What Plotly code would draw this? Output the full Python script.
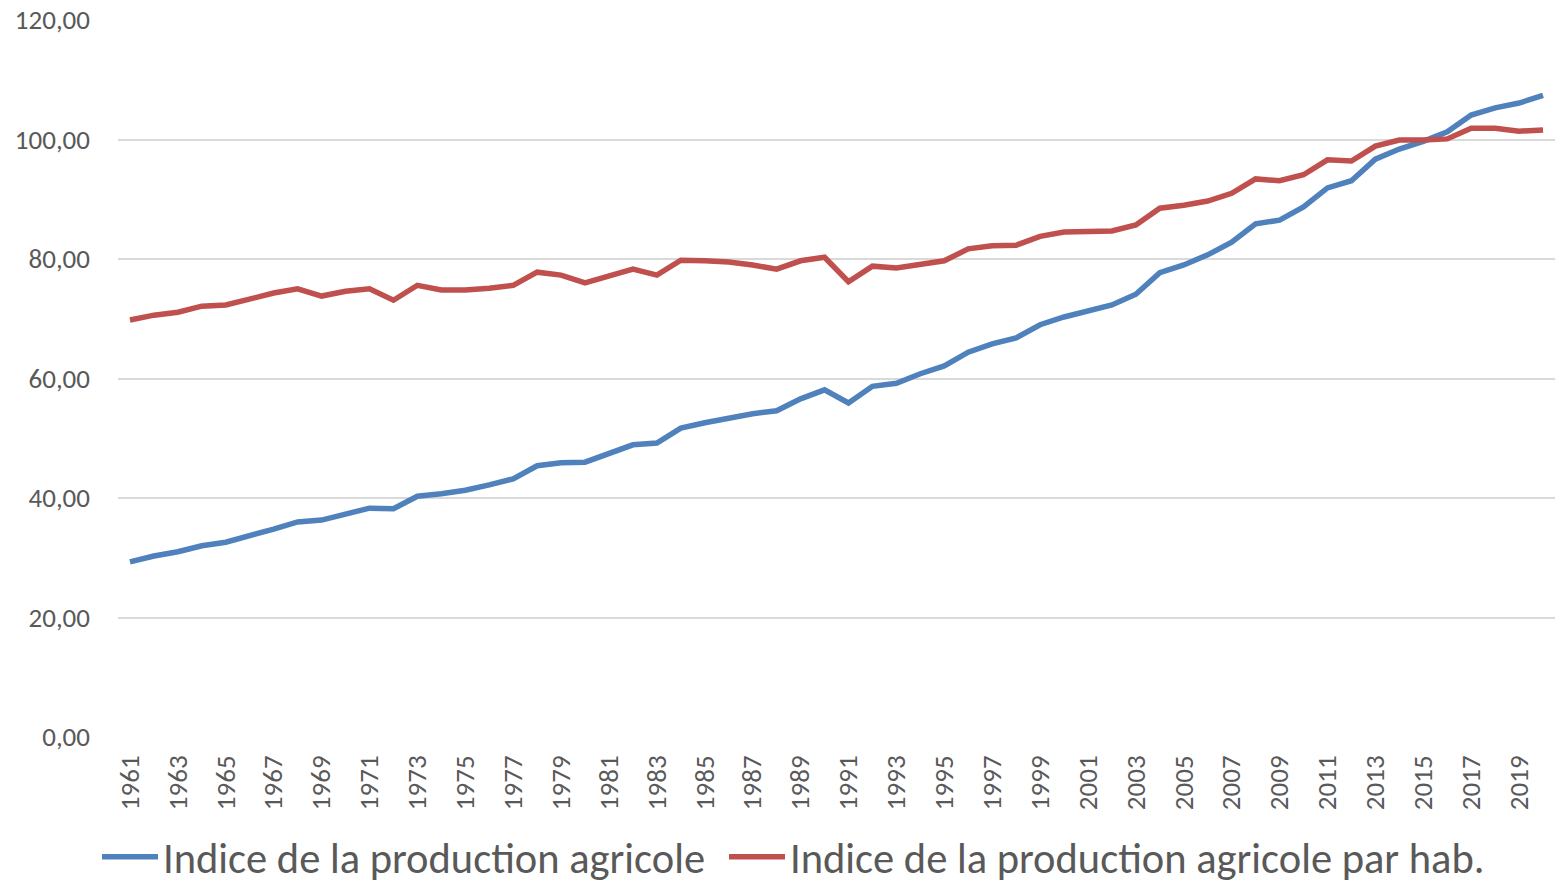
import plotly.graph_objects as go

years = list(range(1961, 2021))
production = [29.3, 30.3, 31.0, 32.0, 32.6, 33.6, 34.8, 36.0, 36.3, 37.3,
              38.3, 38.2, 40.3, 40.7, 41.3, 42.2, 43.2, 45.4, 45.9, 46.0,
              47.4, 48.9, 49.2, 51.7, 52.6, 53.4, 54.1, 54.6, 56.6, 58.1,
              55.9, 58.7, 59.2, 60.8, 62.1, 64.4, 65.8, 66.8, 69.0, 70.3,
              71.3, 72.3, 74.1, 77.7, 79.0, 80.7, 82.8, 85.9, 86.5, 88.7,
              91.9, 93.1, 96.7, 98.4, 99.7, 101.3, 104.1, 105.3, 106.1, 107.4]
production_hab = [69.8, 70.6, 71.1, 72.1, 72.3, 73.3, 74.3, 75.0, 73.8, 74.6,
                  75.0, 73.1, 75.6, 74.8, 74.8, 75.1, 75.6, 77.8, 77.3, 76.0,
                  77.2, 78.3, 77.3, 79.8, 79.7, 79.5, 79.0, 78.3, 79.7, 80.3,
                  76.2, 78.8, 78.5, 79.2, 79.7, 81.7, 82.2, 82.3, 83.8, 84.5,
                  84.5, 84.7, 85.7, 88.5, 89.0, 89.7, 91.0, 93.4, 93.1, 94.1,
                  96.6, 96.4, 98.9, 99.9, 99.9, 100.1, 101.9, 101.9, 101.4, 101.6]
series_names = ["Indice de la production agricole",
                "Indice de la production agricole par hab."]
colors = ["#4F81BD", "#C0504D"]
y_ticks = [0, 20, 40, 60, 80, 100, 120]

cats = [str(y) for y in years]
font_family = "Carlito, Lato, sans-serif"
text_color = "#595959"

fig = go.Figure()
for name, vals, col, lg in zip(series_names, [production, production_hab], colors,
                               ["legend", "legend2"]):
    fig.add_trace(go.Scatter(x=cats, y=vals, mode="lines", name=name, legend=lg,
                             line=dict(color=col, width=5.5)))

legend_common = dict(orientation="h", xref="container", yref="container",
                     xanchor="left", yanchor="middle", y=1 - 857 / 884,
                     font=dict(size=42.5, color=text_color, family=font_family),
                     itemwidth=56, bgcolor="rgba(0,0,0,0)")

fig.update_layout(
    width=1560, height=884,
    margin=dict(l=118, r=5, t=20, b=147, autoexpand=False),
    paper_bgcolor="white", plot_bgcolor="white",
    separators=", ",
    font=dict(family=font_family, color=text_color),
    showlegend=True,
    legend=dict(x=97 / 1560, **legend_common),
    legend2=dict(x=724 / 1560, **legend_common),
)
fig.update_xaxes(type="category", range=[-0.5, len(cats) - 0.5],
                 tickmode="array", tickvals=cats[::2], ticktext=cats[::2],
                 tickangle=-90, tickfont=dict(size=27, color=text_color),
                 showgrid=False, showline=False, zeroline=False,
                 ticklabelstandoff=12, automargin=False)
fig.update_yaxes(range=[0, 120], tickmode="array", tickvals=y_ticks,
                 tickformat=".2f", tickfont=dict(size=27, color=text_color),
                 showgrid=True, gridcolor="#D9D9D9", gridwidth=1.5,
                 zeroline=False, showline=False, ticklabelstandoff=27,
                 automargin=False)

fig.write_html("out.html", config={"displayModeBar": False},
               post_script="document.body.style.margin='0';")
